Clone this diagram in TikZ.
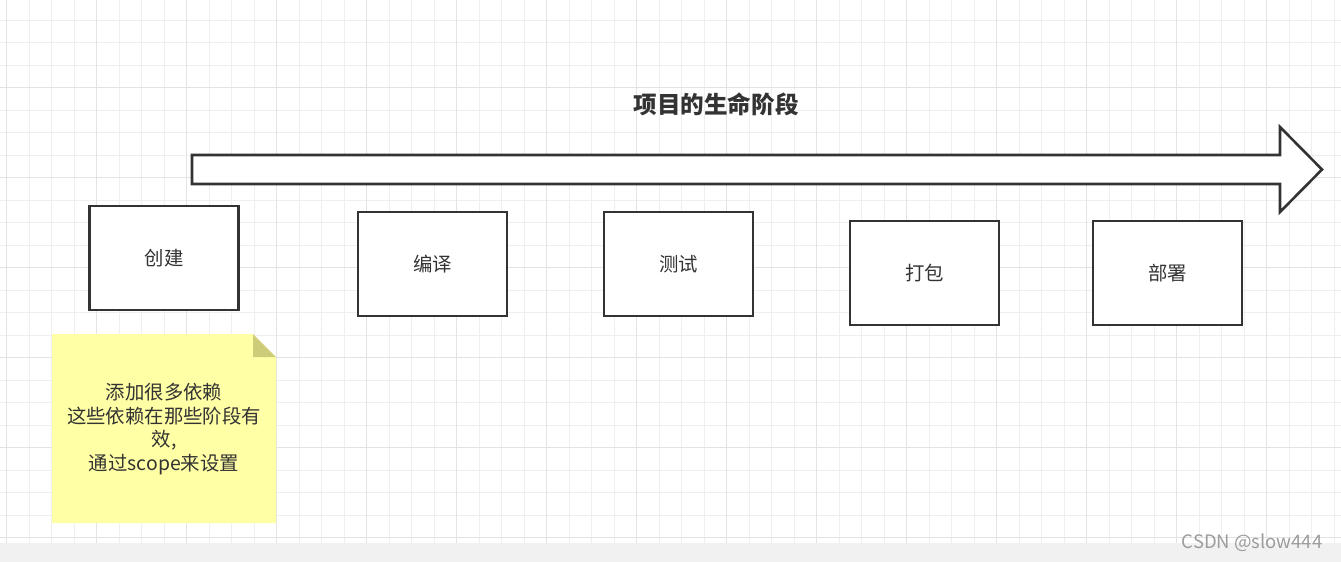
\documentclass[tikz,border=0pt]{standalone}
\usepackage{fontspec}
\setmainfont{Noto Sans CJK SC}
\usetikzlibrary{positioning}
\definecolor{inkgray}{HTML}{333333}
\definecolor{gridminor}{HTML}{EFEFEF}
\definecolor{gridmajor}{HTML}{E3E3E3}
\definecolor{notefill}{HTML}{FFFFA6}
\definecolor{notefold}{HTML}{CDCD79}
\definecolor{barfill}{HTML}{F1F1F1}
\definecolor{markgray}{HTML}{9C9C9C}
\tikzset{
  phase/.style={draw=inkgray, line width=2.6pt, fill=white, minimum width=149pt, minimum height=104pt,
    inner sep=0pt, text=inkgray, font=\fontsize{19.4}{23.5}\selectfont},
}

\begin{document}
\begin{tikzpicture}[x=1pt,y=-1pt]
        \useasboundingbox (0,0) rectangle (1341,562);
        % grid background
        \foreach \gx in {0,...,59}
            \draw[gridminor, line width=1pt] (6.7+\gx*22.5,0) -- (6.7+\gx*22.5,543);
        \foreach \gy in {0,...,23}
            \draw[gridminor, line width=1pt] (0,20+\gy*22.5) -- (1341,20+\gy*22.5);
        \foreach \gx in {0,...,14}
            \draw[gridmajor, line width=1pt] (6.7+\gx*90,0) -- (6.7+\gx*90,543);
        \foreach \gy in {0,...,5}
            \draw[gridmajor, line width=1pt] (0,87.5+\gy*90) -- (1341,87.5+\gy*90);
        \fill[barfill] (0,543) rectangle (1341,562);

        \node (title) at (716,104) [text=inkgray, font=\bfseries\fontsize{23.6}{28}\selectfont] {项目的生命阶段};
        \draw[inkgray, line width=2.6pt, fill=white, line join=miter]
            (192,155) -- (1280,155) -- (1280,127) -- (1322,169.5) -- (1280,212) -- (1280,184) -- (192,184) -- cycle;

        \node[phase] (create) at (164,258) {创建};
        \node[phase] (compile) at (432.5,264) {编译};
        \node[phase] (test) at (678.5,264) {测试};
        \node[phase] (package) at (924.5,273) {打包};
        \node[phase] (deploy) at (1167.5,273) {部署};

        % sticky note
        \fill[notefill] (52,334) -- (253,334) -- (276,357) -- (276,523) -- (52,523) -- cycle;
        \fill[notefold] (253,334) -- (276,357) -- (253,357) -- cycle;
        \node (deps) at (164,429) [align=center, text=inkgray, font=\fontsize{19.4}{23.8}\selectfont]
            {添加很多依赖\\这些依赖在那些阶段有\\效,\\通过scope来设置};

        \node (mark) at (1326,543) [anchor=east, text=markgray, font=\fontsize{18.5}{22}\selectfont] {CSDN @slow444};
    \end{tikzpicture}
\end{document}
